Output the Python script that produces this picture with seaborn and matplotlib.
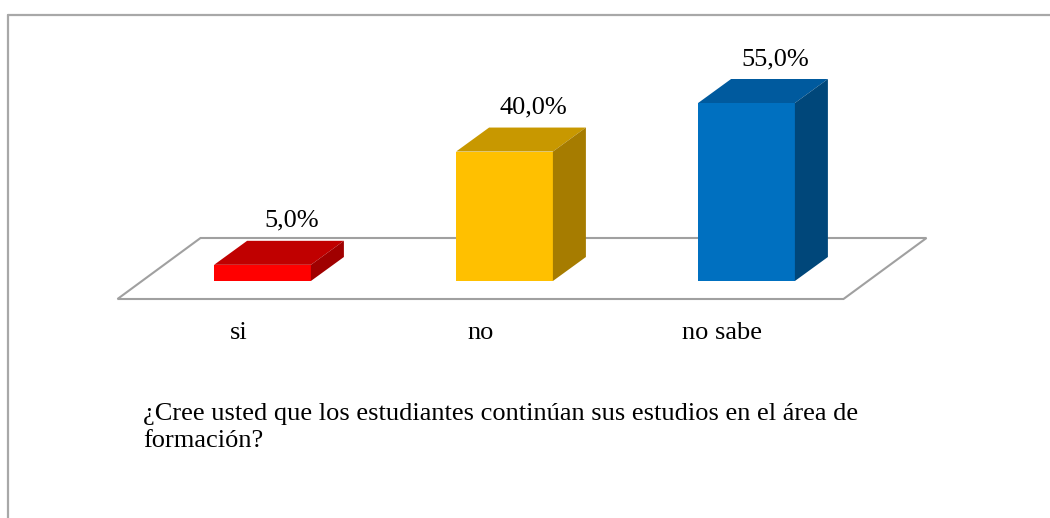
import matplotlib
matplotlib.use("Agg")
import matplotlib.pyplot as plt
from matplotlib.patches import Polygon
from matplotlib.lines import Line2D
import seaborn as sns
import pandas as pd

# data
categories = ["si", "no", "no sabe"]
values = [5.0, 40.0, 55.0]
value_labels = ["5,0%", "40,0%", "55,0%"]
question = "¿Cree usted que los estudiantes continúan sus estudios en el área de\nformación?"

front_colors = ["#FF0000", "#FFC000", "#0070C0"]
top_colors = ["#C00000", "#C89800", "#005A9E"]
side_colors = ["#A00000", "#A67C00", "#00477A"]

sns.set_theme(style="white")
plt.rcParams["font.family"] = ["Liberation Serif", "DejaVu Serif"]

df = pd.DataFrame({"cat": categories, "val": values})

fig = plt.figure(figsize=(10.5, 5.18), dpi=100)
ax = fig.add_axes([0, 0, 1, 1])

sns.barplot(data=df, x="cat", y="val", hue="cat", palette=front_colors,
            width=0.4, legend=False, ax=ax, saturation=1, zorder=3)

# pixel scale: 242 px per category, 178 px for 55 %
px_x = 242.0
px_y = 178.0 / 55.0
ax.set_xlim(-262.5 / px_x, (1050 - 262.5) / px_x)
ax.set_ylim(-237 / px_y, (518 - 237) / px_y)
ax.axis("off")

# 3d depth of the bars
dx = 33 / px_x
dy = 24 / px_y

# floor
n = len(categories)
fl_left = -0.5 - 24 / px_x
fl_right = fl_left + n
fl_y = -18 / px_y
fdx, fdy = 83 / px_x, 61 / px_y
floor = Polygon([(fl_left, fl_y), (fl_right, fl_y), (fl_right + fdx, fl_y + fdy),
                 (fl_left + fdx, fl_y + fdy)], closed=True, facecolor="white",
                edgecolor="#A0A0A0", linewidth=1.5, zorder=1)
ax.add_patch(floor)

fs = 19
for i, p in enumerate(ax.patches[:n]):
    x0, w, h = p.get_x(), p.get_width(), p.get_height()
    p.set_edgecolor("none")
    top = Polygon([(x0, h), (x0 + w, h), (x0 + w + dx, h + dy), (x0 + dx, h + dy)],
                  closed=True, facecolor=top_colors[i], edgecolor="none", zorder=3)
    side = Polygon([(x0 + w, 0), (x0 + w + dx, dy), (x0 + w + dx, h + dy), (x0 + w, h)],
                   closed=True, facecolor=side_colors[i], edgecolor="none", zorder=3)
    ax.add_patch(top)
    ax.add_patch(side)
    ax.text(x0 + w / 2 + 29 / px_x, h + dy + 20 / px_y, value_labels[i], ha="center",
            va="center", fontsize=fs, color="black", zorder=4)
    # category label centred on floor front segment
    ax.text(fl_left + i + 0.5, fl_y - 34 / px_y, categories[i], ha="center",
            va="center", fontsize=fs, color="black")

fig.text(143 / 1050, 1 - 403 / 518, question, ha="left", va="top", fontsize=fs,
         linespacing=1.3, color="black")

# outer border (top and left only visible)
fig.add_artist(Line2D([7.5 / 1050, 1], [1 - 14.5 / 518, 1 - 14.5 / 518],
                      transform=fig.transFigure, color="#A8A8A8", linewidth=1.6))
fig.add_artist(Line2D([7.5 / 1050, 7.5 / 1050], [0, 1 - 14.5 / 518],
                      transform=fig.transFigure, color="#A8A8A8", linewidth=1.6))

fig.savefig("out.png", dpi=100, facecolor="white")
